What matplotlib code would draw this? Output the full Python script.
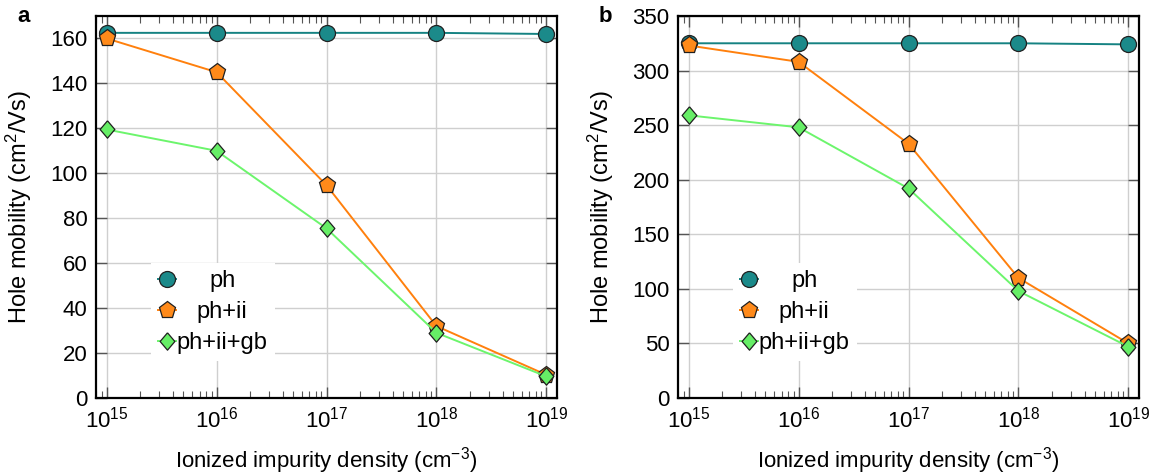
import numpy as np
import matplotlib
matplotlib.use("Agg")
import matplotlib.pyplot as plt
from matplotlib.ticker import LogLocator, NullFormatter

plt.rcParams['font.family'] = ['Liberation Sans', 'DejaVu Sans']
plt.rcParams['mathtext.fontset'] = 'custom'
plt.rcParams['mathtext.rm'] = 'Liberation Sans'
plt.rcParams['mathtext.default'] = 'regular'

density = [1e15, 1e16, 1e17, 1e18, 1e19]
series_labels = ["ph", "ph+ii", "ph+ii+gb"]

a_ph = [162.5, 162.5, 162.5, 162.5, 162.0]
a_ph_ii = [160.0, 145.0, 94.7, 32.0, 10.3]
a_ph_ii_gb = [119.5, 110.0, 75.5, 29.0, 9.6]

b_ph = [325.0, 325.0, 325.0, 325.0, 324.0]
b_ph_ii = [323.0, 308.0, 233.0, 110.0, 50.0]
b_ph_ii_gb = [259.0, 248.0, 192.0, 98.0, 47.0]

a_yticks = [0, 20, 40, 60, 80, 100, 120, 140, 160]
b_yticks = [0, 50, 100, 150, 200, 250, 300, 350]

colors_line = ['#158282', '#ff800d', '#6cf56c']
colors_face = ['#1b8a8a', '#ff8a1a', '#66ee66']
diamond = [(0, 1), (0.85, 0), (0, -1), (-0.85, 0), (0, 1)]
markers = ['o', 'p', diamond]
msizes = [11.5, 12.5, 12.5]

fig = plt.figure(figsize=(11.56, 4.74), dpi=100)
W, H = 1156, 474
axA = fig.add_axes([96 / W, (H - 398) / H, 461 / W, 382 / H])
axB = fig.add_axes([678 / W, (H - 398) / H, 461 / W, 382 / H])


def draw(ax, data, yticks, ymax, tag):
    ax.set_xscale('log')
    lines = []
    for vals, lab, cl, cf, mk, ms in zip(data, series_labels, colors_line, colors_face, markers, msizes):
        ln, = ax.plot(density, vals, color=cl, lw=1.4, marker=mk, ms=ms,
                      mfc=cf, mec='#202020', mew=0.9, label=lab, zorder=3)
        lines.append(ln)
    ax.set_xlim(8e14, 1.25e19)
    ax.set_ylim(0, ymax)
    ax.set_yticks(yticks)
    ax.xaxis.set_major_locator(LogLocator(base=10, numticks=10))
    ax.xaxis.set_minor_locator(LogLocator(base=10, subs=np.arange(2, 10), numticks=20))
    ax.xaxis.set_minor_formatter(NullFormatter())
    ax.grid(True, which='major', color='#cfcfcf', lw=1.0, zorder=0)
    ax.set_axisbelow(True)
    ax.tick_params(which='both', direction='in', top=True, right=True, color='#555555')
    ax.tick_params(which='major', length=8, width=1.0, labelsize=16, pad=6)
    ax.tick_params(which='minor', length=5, width=0.8)
    for s in ax.spines.values():
        s.set_linewidth(1.6)
    ax.set_xlabel('Ionized impurity density (cm$^{-3}$)', fontsize=16, labelpad=9)
    ax.set_ylabel('Hole mobility (cm$^{2}$/Vs)', fontsize=17, labelpad=12)
    leg = ax.legend(handles=lines, loc='lower left', bbox_to_anchor=(0.119, 0.097),
                    borderaxespad=0, frameon=True, fancybox=False, framealpha=1.0,
                    facecolor='white', edgecolor='none', fontsize=17,
                    handlelength=0.75, handletextpad=0.05, labelspacing=0.38,
                    borderpad=0.3)
    leg.set_zorder(2)
    fig.canvas.draw()
    r = fig.canvas.get_renderer()
    texts = leg.get_texts()
    widths = [t.get_window_extent(r).width for t in texts]
    wmax = max(widths)
    for t, w in zip(texts, widths):
        t.set_position(((wmax - w) / 2.0, 0))
    fig.text(ax.get_position().x0 - 79 / W, 0.953, tag, fontsize=16, fontweight='bold',
             ha='left', va='baseline')


draw(axA, [a_ph, a_ph_ii, a_ph_ii_gb], a_yticks, 170, 'a')
draw(axB, [b_ph, b_ph_ii, b_ph_ii_gb], b_yticks, 350, 'b')

fig.savefig('out.png', dpi=100)
